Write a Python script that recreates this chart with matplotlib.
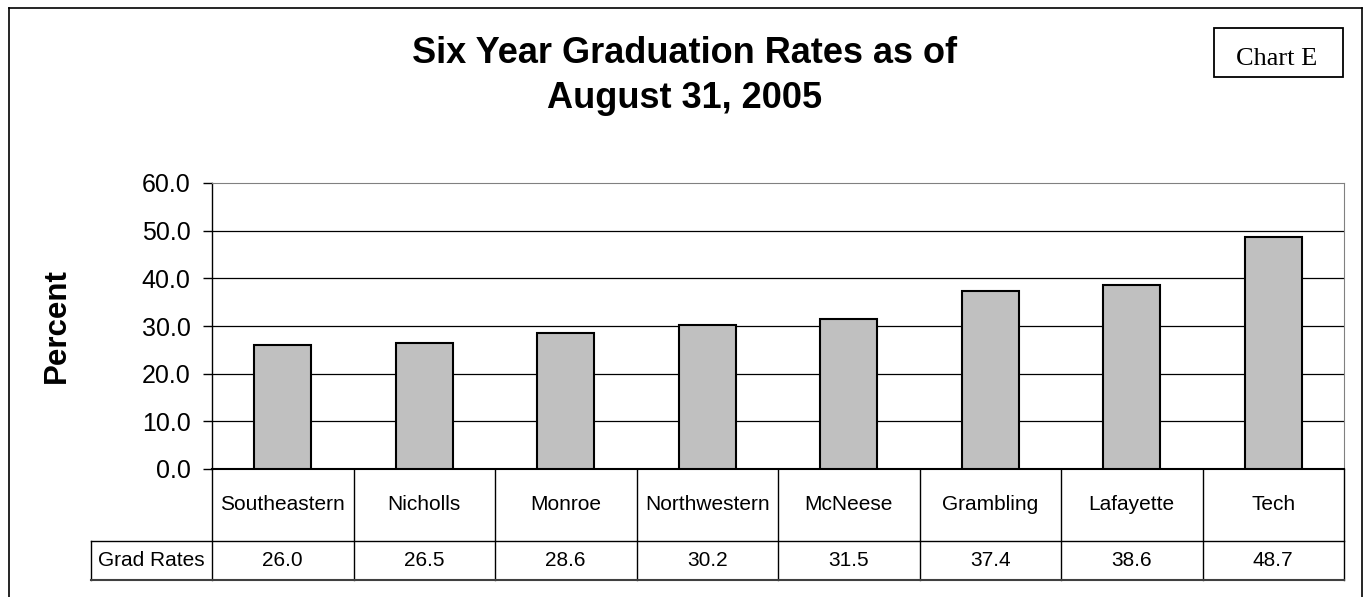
import matplotlib
matplotlib.use("Agg")
import matplotlib.pyplot as plt
from matplotlib.lines import Line2D
from matplotlib.patches import Rectangle
from matplotlib import font_manager

categories = ["Southeastern", "Nicholls", "Monroe", "Northwestern", "McNeese",
              "Grambling", "Lafayette", "Tech"]
grad_rates = [26.0, 26.5, 28.6, 30.2, 31.5, 37.4, 38.6, 48.7]
series_name = "Grad Rates"
y_ticks = [0, 10, 20, 30, 40, 50, 60]
title_lines = ["Six Year Graduation Rates as of", "August 31, 2005"]
ylabel = "Percent"
tag = "Chart E"

W, H = 1367, 597
DPI = 100
fig = plt.figure(figsize=(W / DPI, H / DPI), dpi=DPI)
fig.patch.set_facecolor("white")

names = {f.name for f in font_manager.fontManager.ttflist}
sans = "Liberation Sans" if "Liberation Sans" in names else "DejaVu Sans"
serif = "Liberation Serif" if "Liberation Serif" in names else "DejaVu Serif"


def fx(px):
    return px / W


def fy(py):
    return 1 - py / H


# outer frame
for xs, ys in [((9, 9), (8, 600)), ((9, 1362), (8, 8)), ((1362, 1362), (8, 600))]:
    fig.add_artist(Line2D([fx(x) for x in xs], [fy(y) for y in ys],
                          color="black", lw=1.2, transform=fig.transFigure))

# main axes
L, R, T, B = 212, 1344, 183, 469
ax = fig.add_axes([fx(L), fy(B), fx(R - L), (B - T) / H])
n = len(categories)
xpos = list(range(n))
ax.bar(xpos, grad_rates, width=0.4, color="#C0C0C0", edgecolor="black",
       linewidth=1.5, zorder=3)
ax.set_xlim(-0.5, n - 0.5)
ax.set_ylim(0, 60)
ax.set_yticks(y_ticks)
ax.set_yticklabels([f"{v:.1f}" for v in y_ticks], fontsize=18, family=sans)
ax.tick_params(axis="y", direction="out", length=6.5, width=1, pad=9)
ax.set_xticks([])
for v in y_ticks[1:-1]:
    ax.axhline(v, color="black", lw=0.9, zorder=1)
ax.spines["top"].set_color("#808080")
ax.spines["right"].set_color("#808080")
ax.spines["left"].set_color("black")
ax.spines["bottom"].set_color("black")
ax.spines["bottom"].set_linewidth(1.5)
ax.spines["left"].set_linewidth(1.0)

fig.text(fx(57), fy(326), ylabel, rotation=90, ha="center", va="center",
         fontsize=22.5, fontweight="bold", family=sans)

# data table
TL = 91
TB = 580
cat_w = (R - L) / n
label_w = (L - TL) / cat_w
tax = fig.add_axes([fx(TL), fy(TB), fx(R - TL), (TB - B) / H])
tax.set_xlim(-0.5 - label_w, n - 0.5)
tax.set_ylim(TB - B, 0)
tax.axis("off")
row1 = 541 - B
row2 = TB - B
lc = "black"
lw = 1.0
for i in range(n + 1):
    tax.plot([i - 0.5, i - 0.5], [0, row2], color=lc, lw=lw, clip_on=False)
tax.plot([-0.5 - label_w, -0.5 - label_w], [row1, row2], color=lc, lw=lw, clip_on=False)
tax.plot([-0.5 - label_w, n - 0.5], [row1, row1], color=lc, lw=lw, clip_on=False)
tax.plot([-0.5 - label_w, n - 0.5], [row2, row2], color="#404040", lw=1.5, clip_on=False)
for i, c in enumerate(categories):
    tax.text(i, row1 / 2, c, ha="center", va="center", fontsize=15, family=sans)
    tax.text(i, (row1 + row2) / 2, f"{grad_rates[i]:.1f}", ha="center",
             va="center", fontsize=15, family=sans)
tax.text(-0.5 - label_w / 2, (row1 + row2) / 2, series_name, ha="center",
         va="center", fontsize=15, family=sans)

# title
for line, base in zip(title_lines, [63, 108]):
    fig.text(fx(685), fy(base), line, ha="center", va="baseline", fontsize=26,
             fontweight="bold", family=sans)

# chart tag box
fig.add_artist(Rectangle((fx(1214), fy(77)), fx(1343 - 1214), (77 - 28) / H,
                         transform=fig.transFigure, fill=False,
                         edgecolor="black", lw=1.3))
fig.text(fx(1277), fy(65), tag, ha="center", va="baseline", fontsize=19,
         family=serif)

fig.savefig("out.png", dpi=DPI, facecolor="white")
